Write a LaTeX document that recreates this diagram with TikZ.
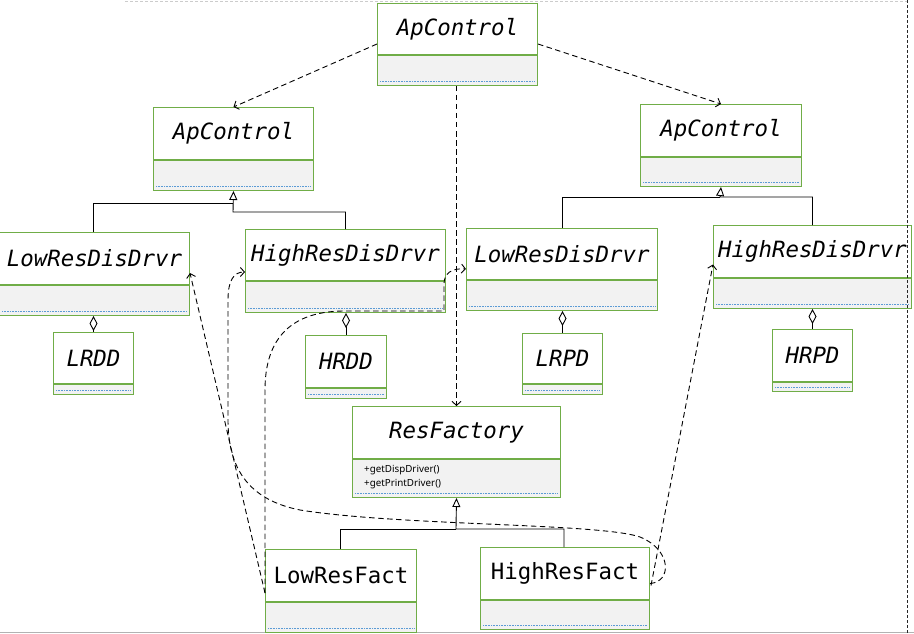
\documentclass[tikz,border=0pt]{standalone}
\usepackage{fontspec}
\newfontfamily\clsfont{DejaVu Sans Mono}[ItalicFont={DejaVu Sans Mono Oblique}]
\newfontfamily\methfont{Noto Sans}
\usetikzlibrary{arrows.meta,calc}
\definecolor{umlgreen}{HTML}{70AD47}
\definecolor{umlgray}{HTML}{F2F2F2}
\definecolor{umlblue}{HTML}{5B9BD5}
\tikzset{
  clshead/.style={draw=umlgreen, line width=1pt, fill=white, inner sep=1pt},
  italname/.style={font=\clsfont\itshape\fontsize{22.4}{26}\selectfont},
  upname/.style={font=\clsfont\fontsize{22.4}{26}\selectfont},
  clsbody/.style={draw=umlgreen, line width=1pt, fill=umlgray, inner sep=0pt},
  blueline/.style={umlblue, line width=0.6pt, dash pattern=on 0.8pt off 0.8pt},
  depend/.style={line width=0.9pt, dash pattern=on 5.5pt off 3.5pt, -{Straight Barb[length=4pt,width=9pt]}},
  gen/.style={line width=0.9pt, -{Triangle[open,length=9pt,width=8pt]}},
  genline/.style={line width=0.9pt},
  aggr/.style={line width=0.9pt, {Diamond[open,length=15pt,width=8pt]}-},
  methtext/.style={font=\methfont\fontsize{9.8}{11}\selectfont, inner sep=0pt, anchor=base west},
}
% #1 name, #2 x1, #3 y1, #4 x2, #5 ydiv, #6 y2, #7 name style, #8 text
\newcommand\umlcls[8]{%
  \node[clshead,#7,anchor=north west,minimum width={(#4-(#2))*1pt},minimum height={(#5-(#3))*1pt}] (#1) at (#2,#3) {#8};
  \node[clsbody,anchor=north west,minimum width={(#4-(#2))*1pt},minimum height={(#6-(#5))*1pt}] (#1-b) at (#1.south west) {};
  \draw[blueline] ($(#1-b.south west)+(3,-5)$) -- ($(#1-b.south east)+(-3,-5)$);
}
\begin{document}
\begin{tikzpicture}[x=1pt,y=-1pt]
\useasboundingbox (0,0) rectangle (914,634);
\fill[white] (0,0) rectangle (914,634);
% page border lines
\draw[gray!40, line width=0.8pt, dash pattern=on 3pt off 2pt] (125,1) -- (907,1);
\draw[gray!60, line width=1pt] (0,632) -- (914,632);

% classes
\umlcls{apc}{377}{3}{537}{54}{84}{italname}{ApControl}
\umlcls{apl}{153}{107}{313}{159}{189}{italname}{ApControl}
\umlcls{apr}{640}{104}{801}{156}{185}{italname}{ApControl}
\umlcls{lrd1}{-1}{232}{189}{284}{314}{italname}{LowResDisDrvr}
\umlcls{hrd1}{245}{229}{445}{280}{311}{italname}{HighResDisDrvr}
\umlcls{lrd2}{466}{228}{657}{279}{309}{italname}{LowResDisDrvr}
\umlcls{hrd2}{713}{225}{911}{277}{307}{italname}{HighResDisDrvr}
\umlcls{lrdd}{53}{332}{133}{383}{393}{italname}{LRDD}
\umlcls{hrdd}{305}{335}{386}{387}{397}{italname}{HRDD}
\umlcls{lrpd}{522}{333}{602}{383}{393}{italname}{LRPD}
\umlcls{hrpd}{772}{329}{852}{381}{390}{italname}{HRPD}
\umlcls{rf}{352}{406}{560}{458}{496}{italname}{ResFactory}
\umlcls{lrf}{265}{549}{416}{601}{631}{upname}{LowResFact}
\umlcls{hrf}{480}{547}{649}{599}{628}{upname}{HighResFact}

\node[methtext] (rfm1) at (364,472) {+getDispDriver()};
\node[methtext] (rfm2) at (364,486) {+getPrintDriver()};

% generalization: left hierarchy
\draw[genline] (lrd1.north -| 93,0) |- (233,203);
\draw[gen] (hrd1.north) |- (233,212) -- (apl-b.south);
% right hierarchy
\draw[genline] (lrd2.north) |- (720,197);
\draw[gen] (hrd2.north) |- (720,197) -- (apr-b.south);
% factories
\draw[genline] (lrf.north -| 340,0) |- (456,529);
\draw[gen] (hrf.north -| 564,0) |- (456,529) -- (rf-b.south);

% aggregation
\draw[aggr] (lrdd.north |- lrd1-b.south) -- (lrdd.north);
\draw[aggr] (hrdd.north |- hrd1-b.south) -- (hrdd.north);
\draw[aggr] (lrpd.north |- lrd2-b.south) -- (lrpd.north);
\draw[aggr] (hrpd.north |- hrd2-b.south) -- (hrpd.north);

% dependencies from top ApControl
\draw[depend] ($(apc.west)+(0,15)$) -- (apl.north);
\draw[depend] ($(apc.east)+(0,15)$) -- (apr.north);
\draw[depend] (rf.north |- apc-b.south) -- (rf.north);

% LowResFact -> left LowResDisDrvr
\draw[depend] ($(lrf-b.north west)+(0,-9)$) -- ($(lrd1.south east)+(0,-12)$);
% LowResFact -> right LowResDisDrvr
\draw[depend] ($(lrf-b.north west)+(0,-9)$) -- (265,390)
  .. controls (265,330) and (300,311) .. (345,311) -- (444,311) -- (444,284)
  .. controls (444,273) and (452,268) .. ($(lrd2.south west)+(0,-11)$);
% HighResFact -> left HighResDisDrvr
\draw[depend] ($(hrf.east)+(0,10)$) .. controls (672,582) and (672,550) .. (640,537)
  .. controls (600,523) and (400,526) .. (300,510)
  .. controls (250,500) and (228,470) .. (228,420) -- (228,300)
  .. controls (228,280) and (234,272) .. ($(hrd1.west)+(0,17)$);
% HighResFact -> right HighResDisDrvr
\draw[depend] ($(hrf.east)+(1,12)$) -- ($(hrd2.west)+(0,13)$);

% right page border
\draw[black!85, line width=0.8pt, dash pattern=on 3pt off 2pt] (907,0) -- (907,634);
\end{tikzpicture}
\end{document}
